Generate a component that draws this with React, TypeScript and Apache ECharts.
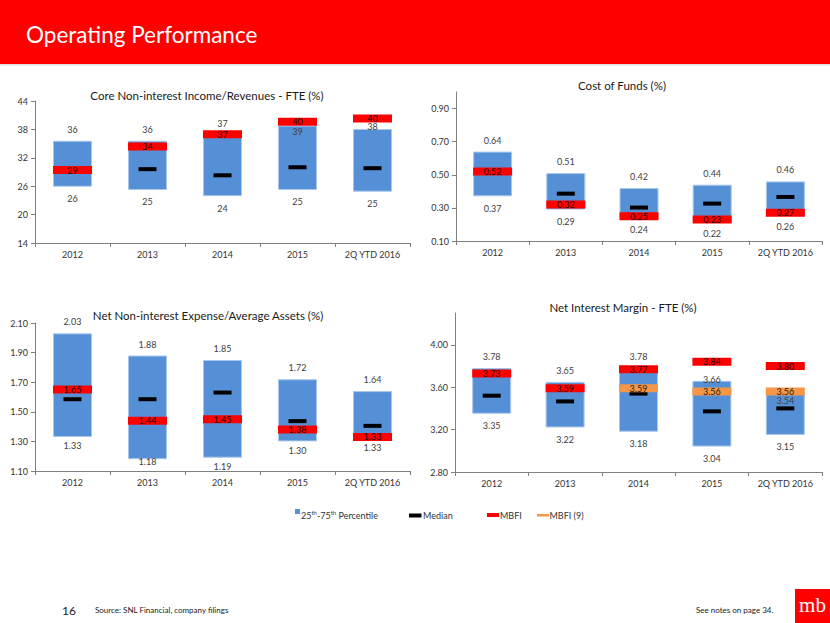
import React, { useEffect, useRef } from 'react';
import * as echarts from 'echarts';

const categories = ['2012', '2013', '2014', '2015', '2Q YTD 2016'];

// Core Non-interest Income/Revenues - FTE (%)
const coreP25 = [25.9, 25.2, 23.9, 25.2, 24.85];
const coreP75 = [35.6, 35.6, 36.8, 38.8, 38.1];
const coreMedian = [29.5, 29.6, 28.3, 30.0, 29.8];
const coreMBFI = [29.4, 34.4, 37.0, 39.6, 40.3];
const coreTicks = [14, 20, 26, 32, 38, 44];

// Cost of Funds (%)
const cofP25 = [0.37, 0.29, 0.24, 0.22, 0.26];
const cofP75 = [0.64, 0.51, 0.42, 0.44, 0.46];
const cofMedian = [0.52, 0.386, 0.302, 0.326, 0.366];
const cofMBFI = [0.52, 0.32, 0.25, 0.23, 0.27];
const cofTicks = [0.1, 0.3, 0.5, 0.7, 0.9];

// Net Non-interest Expense/Average Assets (%)
const nieP25 = [1.33, 1.18, 1.19, 1.30, 1.33];
const nieP75 = [2.03, 1.88, 1.85, 1.72, 1.64];
const nieMedian = [1.585, 1.585, 1.63, 1.437, 1.405];
const nieMBFI = [1.65, 1.44, 1.45, 1.38, 1.33];
const nieTicks = [1.1, 1.3, 1.5, 1.7, 1.9, 2.1];

// Net Interest Margin - FTE (%)
const nimP25 = [3.35, 3.22, 3.18, 3.04, 3.15];
const nimP75 = [3.78, 3.65, 3.78, 3.66, 3.54];
const nimMedian = [3.52, 3.466, 3.54, 3.372, 3.40];
const nimMBFI = [3.73, 3.59, 3.77, 3.84, 3.80];
const nimMBFI9: (number | null)[] = [null, null, 3.59, 3.56, 3.56];
const nimTicks = [2.8, 3.2, 3.6, 4.0];

const FONT = 'Lato, "Open Sans", sans-serif';
const BOX = '#5590D6';
const RED = '#FF0000';
const ORANGE = '#F79646';
const TXT = '#333333';

// layout config (not data)
const panels = [
  {
    title: 'Core Non-interest Income/Revenues - FTE (%)', titleX: 207, titleY: 95,
    p25: coreP25, p75: coreP75, median: coreMedian, mbfi: coreMBFI, mbfi9: null as (number | null)[] | null,
    ticks: coreTicks, min: 14, max: 44, dec: 0,
    grid: { left: 35, top: 101, width: 375, height: 142 }, p25Dist: 7.5,
  },
  {
    title: 'Cost of Funds (%)', titleX: 622, titleY: 85,
    p25: cofP25, p75: cofP75, median: cofMedian, mbfi: cofMBFI, mbfi9: null,
    ticks: cofTicks, min: 0.1, max: 1.0, dec: 2,
    grid: { left: 456, top: 92, width: 366, height: 149 }, p25Dist: 7.5,
  },
  {
    title: 'Net Non-interest Expense/Average Assets (%)', titleX: 208, titleY: 315,
    p25: nieP25, p75: nieP75, median: nieMedian, mbfi: nieMBFI, mbfi9: null,
    ticks: nieTicks, min: 1.1, max: 2.1, dec: 2,
    grid: { left: 35, top: 323, width: 375, height: 148 }, p25Dist: 4.5,
  },
  {
    title: 'Net Interest Margin - FTE (%)', titleX: 623, titleY: 307,
    p25: nimP25, p75: nimP75, median: nimMedian, mbfi: nimMBFI, mbfi9: nimMBFI9,
    ticks: nimTicks, min: 2.8, max: 4.3, dec: 2,
    grid: { left: 455, top: 313, width: 367, height: 159 }, p25Dist: 7.5,
  },
];

// label nudges in pixels (positive = down), as placed in the reference
const p75Nudge: Record<string, number> = { '0-3': 17, '0-4': 9, '3-3': 10, '3-4': 18 };
const p25Nudge: Record<string, number> = { '2-1': -7, '2-4': 1.5 };

function buildOption(): any {
  const grid = panels.map((p) => ({ ...p.grid }));
  const xAxis = panels.map((p, i) => ({
    type: 'category',
    gridIndex: i,
    data: categories,
    axisLine: { lineStyle: { color: '#808080', width: 1 } },
    axisTick: { show: true, length: 4, lineStyle: { color: '#808080' } },
    axisLabel: { fontSize: 9, color: TXT, margin: 7, fontFamily: FONT, interval: 0 },
    splitLine: { show: false },
  }));
  const yAxis = panels.map((p, i) => ({
    type: 'value',
    gridIndex: i,
    min: p.min,
    max: p.max,
    axisLine: { show: true, lineStyle: { color: '#808080', width: 1 } },
    axisTick: { show: true, length: 4, customValues: p.ticks, lineStyle: { color: '#808080' } },
    axisLabel: {
      fontSize: 9, color: TXT, margin: 7, fontFamily: FONT, customValues: p.ticks,
      formatter: (v: number) => Number(v).toFixed(p.dec),
    },
    splitLine: { show: false },
  }));

  const series: any[] = [];
  panels.forEach((p, i) => {
    const fmt = (v: number) => Number(v).toFixed(p.dec);
    series.push({
      type: 'bar', name: 'base' + i, xAxisIndex: i, yAxisIndex: i, stack: 'st' + i,
      barWidth: 39, silent: true, z: 2,
      itemStyle: { color: 'rgba(0,0,0,0)' },
      data: p.p25.map((v, j) => ({
        value: v,
        label: { offset: [0, p25Nudge[i + '-' + j] || 0] },
      })),
      label: {
        show: true, position: 'insideTop', distance: p.p25Dist, fontSize: 9, color: '#404040', fontFamily: FONT,
        formatter: (prm: any) => fmt(p.p25[prm.dataIndex]),
      },
    });
    series.push({
      type: 'bar', name: '25th-75th Percentile', xAxisIndex: i, yAxisIndex: i, stack: 'st' + i,
      barWidth: 39, silent: true, z: 2,
      itemStyle: { color: BOX, borderColor: '#A9C6EC', borderWidth: 1 },
      data: p.p75.map((v, j) => ({
        value: v - p.p25[j],
        label: { offset: [0, p75Nudge[i + '-' + j] || 0] },
      })),
      label: {
        show: true, position: 'top', distance: 7, fontSize: 9, color: '#404040', fontFamily: FONT,
        formatter: (prm: any) => fmt(p.p75[prm.dataIndex]),
      },
    });
    series.push({
      type: 'scatter', name: 'Median', xAxisIndex: i, yAxisIndex: i, z: 3, silent: true,
      symbol: 'rect', symbolSize: [18, 4],
      itemStyle: { color: '#000000', opacity: 1 },
      data: p.median.map((v, j) => [j, v]),
    });
    if (p.mbfi9) {
      series.push({
        type: 'scatter', name: 'MBFI (9)', xAxisIndex: i, yAxisIndex: i, z: 4, silent: true,
        symbol: 'rect', symbolSize: [39, 8],
        itemStyle: { color: ORANGE, opacity: 1 },
        label: { show: true, position: 'inside', fontSize: 9, color: '#2a1a0a', fontFamily: FONT, formatter: (prm: any) => fmt(prm.value[1]) },
        data: p.mbfi9.map((v, j) => (v == null ? null : [j, v])).filter((d) => d !== null),
      });
    }
    series.push({
      type: 'scatter', name: 'MBFI', xAxisIndex: i, yAxisIndex: i, z: 5, silent: true,
      symbol: 'rect', symbolSize: [39, 8],
      itemStyle: { color: RED, opacity: 1 },
      label: { show: true, position: 'inside', fontSize: 9, color: '#2a0505', fontFamily: FONT, formatter: (prm: any) => fmt(prm.value[1]) },
      data: p.mbfi.map((v, j) => [j, v]),
    });
  });

  const graphic: any[] = [
    { type: 'rect', shape: { x: 0, y: 0, width: 830, height: 64 }, style: { fill: RED } },
    { type: 'rect', shape: { x: 0, y: 64, width: 830, height: 1.5 }, style: { fill: '#e2e2e2' } },
    {
      type: 'text', x: 26, y: 34,
      style: { text: 'Operating Performance', fill: '#ffffff', fontSize: 22.5, fontFamily: FONT, align: 'left', verticalAlign: 'middle' },
    },
    ...panels.map((p) => ({
      type: 'text', x: p.titleX, y: p.titleY,
      style: { text: p.title, fill: '#1a1a1a', fontSize: 11.5, fontFamily: FONT, align: 'center', verticalAlign: 'middle' },
    })),
    // legend
    { type: 'rect', shape: { x: 295, y: 509, width: 5, height: 5 }, style: { fill: BOX } },
    {
      type: 'text', x: 301, y: 515,
      style: {
        text: '25{s|th}-75{s|th} Percentile', fill: TXT, fontSize: 9, fontFamily: FONT, align: 'left', verticalAlign: 'middle',
        rich: { s: { fontSize: 6, fill: TXT, fontFamily: FONT, padding: [0, 0, 5, 0] } },
      },
    },
    { type: 'rect', shape: { x: 409, y: 513.5, width: 12.5, height: 4 }, style: { fill: '#000000' } },
    { type: 'text', x: 423, y: 515.5, style: { text: 'Median', fill: TXT, fontSize: 9, fontFamily: FONT, align: 'left', verticalAlign: 'middle' } },
    { type: 'rect', shape: { x: 487, y: 513, width: 12, height: 4 }, style: { fill: RED } },
    { type: 'text', x: 500, y: 515.5, style: { text: 'MBFI', fill: TXT, fontSize: 9, fontFamily: FONT, align: 'left', verticalAlign: 'middle' } },
    { type: 'rect', shape: { x: 537, y: 514, width: 12, height: 2.5 }, style: { fill: ORANGE } },
    { type: 'text', x: 549.5, y: 515.5, style: { text: 'MBFI (9)', fill: TXT, fontSize: 9, fontFamily: FONT, align: 'left', verticalAlign: 'middle' } },
    // footer
    { type: 'text', x: 62, y: 610, style: { text: '16', fill: '#222222', fontSize: 12, fontFamily: FONT, align: 'left', verticalAlign: 'middle' } },
    { type: 'text', x: 95, y: 610, style: { text: 'Source: SNL Financial, company filings', fill: '#222222', fontSize: 8, fontFamily: FONT, align: 'left', verticalAlign: 'middle' } },
    { type: 'text', x: 696, y: 610, style: { text: 'See notes on page 34.', fill: '#222222', fontSize: 8, fontFamily: FONT, align: 'left', verticalAlign: 'middle' } },
    { type: 'rect', shape: { x: 795, y: 589, width: 35, height: 34 }, style: { fill: RED } },
    { type: 'text', x: 812.5, y: 605, style: { text: 'mb', fill: '#ffffff', fontSize: 21, fontFamily: '"Liberation Serif", "DejaVu Serif", serif', align: 'center', verticalAlign: 'middle' } },
  ];

  return {
    animation: false,
    backgroundColor: '#ffffff',
    grid,
    xAxis,
    yAxis,
    series,
    graphic,
  };
}

export default function App() {
  const ref = useRef<HTMLDivElement>(null);
  useEffect(() => {
    if (!ref.current) return;
    const chart = echarts.init(ref.current, null, { renderer: 'svg', width: 830, height: 623 });
    chart.setOption(buildOption());
    return () => chart.dispose();
  }, []);
  return (
    <div
      ref={ref}
      style={{ position: 'fixed', left: 0, top: 0, width: 830, height: 623, background: '#ffffff' }}
    />
  );
}
